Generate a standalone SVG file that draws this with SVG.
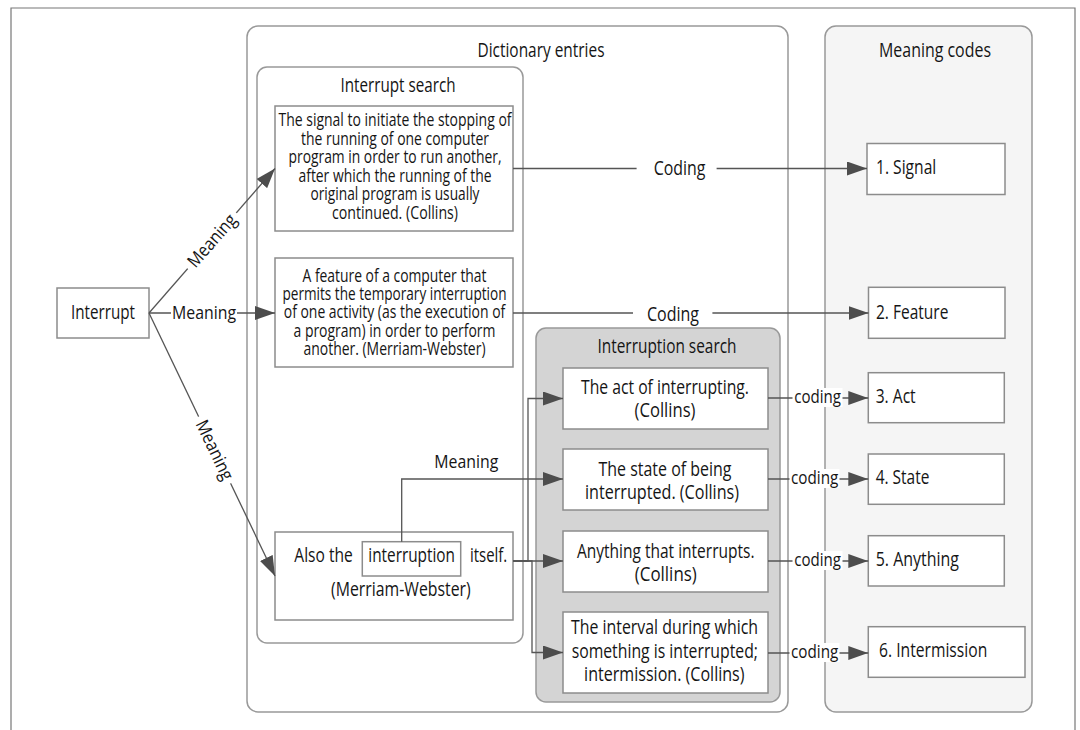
<svg xmlns="http://www.w3.org/2000/svg" width="1080" height="730" viewBox="0 0 1080 730">
<defs>
<style>
text{font-family:"Open Sans","Noto Sans","Liberation Sans",sans-serif;fill:#151515}
.t20{font-size:20px}
.t19{font-size:19px}
.t18{font-size:18px}
.t17{font-size:17.5px}
.c{text-anchor:middle}
.box{fill:#fff;stroke:#8c8c8c;stroke-width:1.5}
.cont{fill:#fff;stroke:#999;stroke-width:1.5}
.edge{fill:none;stroke:#555;stroke-width:1.3}
.bg{fill:#fff}
</style>
<marker id="arr" viewBox="0 0 20 14" refX="20" refY="7" markerWidth="20" markerHeight="14" markerUnits="userSpaceOnUse" orient="auto">
<path d="M0,0 L20,7 L0,14 Z" fill="#4d4d4d"/>
</marker>
</defs>
<rect width="1080" height="730" fill="#fff"/>
<path d="M11,730 V8 H1075 V730" fill="none" stroke="#777" stroke-width="1.2"/>

<g id="dictionary-entries">
<rect class="cont" x="247" y="26" width="541" height="686" rx="11"/>
<text class="t20 c" x="541" y="57" textLength="127" lengthAdjust="spacingAndGlyphs">Dictionary entries</text>
</g>
<g id="meaning-codes">
<rect class="cont" x="825" y="26" width="207" height="686" rx="11" style="fill:#f5f5f5"/>
<text class="t20 c" x="935" y="57" textLength="112" lengthAdjust="spacingAndGlyphs">Meaning codes</text>
</g>
<g id="interrupt-search">
<rect class="cont" x="257" y="67" width="266" height="576" rx="10"/>
<text class="t20 c" x="398" y="92" textLength="115" lengthAdjust="spacingAndGlyphs">Interrupt search</text>
</g>
<g id="interruption-search">
<rect class="cont" x="536" y="328" width="244" height="374" rx="10" style="fill:#d4d4d4"/>
<text class="t20 c" x="667" y="353" textLength="139" lengthAdjust="spacingAndGlyphs">Interruption search</text>
</g>

<g id="interrupt">
<rect class="box" x="57" y="288" width="92" height="50"/>
<text class="t20 c" x="103" y="318.5" textLength="64" lengthAdjust="spacingAndGlyphs">Interrupt</text>
</g>

<g id="def-signal">
<rect class="box" x="275" y="106" width="238" height="125"/>
<g class="t17 c">
<text x="395" y="126" textLength="233" lengthAdjust="spacingAndGlyphs">The signal to initiate the stopping of</text>
<text x="395" y="144.6" textLength="188" lengthAdjust="spacingAndGlyphs">the running of one computer</text>
<text x="395" y="163.2" textLength="213" lengthAdjust="spacingAndGlyphs">program in order to run another,</text>
<text x="395" y="181.8" textLength="193" lengthAdjust="spacingAndGlyphs">after which the running of the</text>
<text x="395" y="200.4" textLength="169" lengthAdjust="spacingAndGlyphs">original program is usually</text>
<text x="395" y="219" textLength="126" lengthAdjust="spacingAndGlyphs">continued. (Collins)</text>
</g>
</g>

<g id="def-feature">
<rect class="box" x="275" y="258" width="238" height="109"/>
<g class="t17 c">
<text x="394.5" y="281.5" textLength="184" lengthAdjust="spacingAndGlyphs">A feature of a computer that</text>
<text x="394.5" y="299.9" textLength="224" lengthAdjust="spacingAndGlyphs">permits the temporary interruption</text>
<text x="394.5" y="318.3" textLength="221.5" lengthAdjust="spacingAndGlyphs">of one activity (as the execution of</text>
<text x="394.5" y="336.7" textLength="202" lengthAdjust="spacingAndGlyphs">a program) in order to perform</text>
<text x="394.5" y="355.1" textLength="182" lengthAdjust="spacingAndGlyphs">another. (Merriam-Webster)</text>
</g>
</g>

<g id="def-also">
<rect class="box" x="275" y="532" width="238" height="88"/>
<g class="t20">
<text x="294.3" y="562.3" textLength="58.4" lengthAdjust="spacingAndGlyphs">Also the</text>
<text x="470" y="562.3" textLength="37.3" lengthAdjust="spacingAndGlyphs">itself.</text>
<text x="331" y="595.5" textLength="139.7" lengthAdjust="spacingAndGlyphs">(Merriam-Webster)</text>
</g>
</g>
<g id="interruption-word">
<rect class="box" x="362.3" y="541.7" width="98.4" height="34.3"/>
<text class="t20" x="368.3" y="562.3" textLength="86.7" lengthAdjust="spacingAndGlyphs">interruption</text>
</g>

<g id="def-act">
<rect class="box" x="563" y="368" width="205" height="61"/>
<g class="t20 c">
<text x="665" y="394" textLength="168" lengthAdjust="spacingAndGlyphs">The act of interrupting.</text>
<text x="665" y="417" textLength="61" lengthAdjust="spacingAndGlyphs">(Collins)</text>
</g>
</g>
<g id="def-state">
<rect class="box" x="563" y="449" width="205" height="61"/>
<g class="t20 c">
<text x="665" y="476" textLength="133" lengthAdjust="spacingAndGlyphs">The state of being</text>
<text x="662" y="499.3" textLength="154" lengthAdjust="spacingAndGlyphs">interrupted. (Collins)</text>
</g>
</g>
<g id="def-anything">
<rect class="box" x="563" y="531" width="205" height="61"/>
<g class="t20 c">
<text x="665.7" y="557.7" textLength="177.6" lengthAdjust="spacingAndGlyphs">Anything that interrupts.</text>
<text x="665.8" y="580.5" textLength="62" lengthAdjust="spacingAndGlyphs">(Collins)</text>
</g>
</g>
<g id="def-interval">
<rect class="box" x="563" y="612" width="205" height="81"/>
<g class="t20 c">
<text x="664.5" y="633.5" textLength="187" lengthAdjust="spacingAndGlyphs">The interval during which</text>
<text x="664.8" y="657.5" textLength="186.3" lengthAdjust="spacingAndGlyphs">something is interrupted;</text>
<text x="664.3" y="681" textLength="160.4" lengthAdjust="spacingAndGlyphs">intermission. (Collins)</text>
</g>
</g>

<g id="code-1">
<rect class="box" x="867" y="143.5" width="138" height="51"/>
<text class="t20" x="876" y="174" textLength="60.3" lengthAdjust="spacingAndGlyphs">1. Signal</text>
</g>
<g id="code-2">
<rect class="box" x="868.5" y="287.3" width="136.5" height="51"/>
<text class="t20" x="876" y="318.5" textLength="72.4" lengthAdjust="spacingAndGlyphs">2. Feature</text>
</g>
<g id="code-3">
<rect class="box" x="868.3" y="372.7" width="136" height="50"/>
<text class="t20" x="875.7" y="402.7" textLength="40" lengthAdjust="spacingAndGlyphs">3. Act</text>
</g>
<g id="code-4">
<rect class="box" x="868.3" y="454" width="136" height="50.3"/>
<text class="t20" x="875.7" y="484.3" textLength="53.7" lengthAdjust="spacingAndGlyphs">4. State</text>
</g>
<g id="code-5">
<rect class="box" x="868.3" y="535.7" width="136" height="50.3"/>
<text class="t20" x="875.7" y="566" textLength="83.3" lengthAdjust="spacingAndGlyphs">5. Anything</text>
</g>
<g id="code-6">
<rect class="box" x="868.3" y="626.7" width="156.7" height="50.6"/>
<text class="t20" x="879" y="657.3" textLength="108.3" lengthAdjust="spacingAndGlyphs">6. Intermission</text>
</g>

<g id="connectors">
<path class="edge" d="M149,313 L275,168.5" marker-end="url(#arr)"/>
<path class="edge" d="M149,313 H275" marker-end="url(#arr)"/>
<path class="edge" d="M149,313 L275,576" marker-end="url(#arr)"/>
<path class="edge" d="M513,168.5 H867" marker-end="url(#arr)"/>
<path class="edge" d="M513,313 H868.5" marker-end="url(#arr)"/>
<path class="edge" d="M401.7,541.7 V479 H563" marker-end="url(#arr)"/>
<path class="edge" d="M513,561 H528 V398.5 H563" marker-end="url(#arr)"/>
<path class="edge" d="M513,561 H563" marker-end="url(#arr)"/>
<path class="edge" d="M513,561 H532 V652.5 H563" marker-end="url(#arr)"/>
<path class="edge" d="M768,398 H868.3" marker-end="url(#arr)"/>
<path class="edge" d="M768,479 H868.3" marker-end="url(#arr)"/>
<path class="edge" d="M768,561 H868.3" marker-end="url(#arr)"/>
<path class="edge" d="M768,653 H868.3" marker-end="url(#arr)"/>

<g transform="translate(212,240.8) rotate(-48.9)">
<rect class="bg" x="-37" y="-9" width="74" height="18"/>
<text class="t18 c" x="0" y="6" textLength="64" lengthAdjust="spacingAndGlyphs">Meaning</text>
</g>
<rect class="bg" x="171" y="304" width="66" height="18"/>
<text class="t18 c" x="204" y="319.3" textLength="64" lengthAdjust="spacingAndGlyphs">Meaning</text>
<g transform="translate(214.6,450) rotate(64.4)">
<rect class="bg" x="-37" y="-9" width="74" height="18"/>
<text class="t18 c" x="0" y="6" textLength="64" lengthAdjust="spacingAndGlyphs">Meaning</text>
</g>
<text class="t18 c" x="466.3" y="468.3" textLength="64" lengthAdjust="spacingAndGlyphs">Meaning</text>

<rect class="bg" x="636.6" y="158" width="80" height="21"/>
<text class="t20 c" x="679.6" y="175" textLength="51.7" lengthAdjust="spacingAndGlyphs">Coding</text>
<rect class="bg" x="633" y="303" width="79.4" height="21"/>
<text class="t20 c" x="673" y="320.5" textLength="52" lengthAdjust="spacingAndGlyphs">Coding</text>

<rect class="bg" x="792.5" y="388" width="50" height="19"/>
<text class="t19" x="794.3" y="402.5" textLength="46.7" lengthAdjust="spacingAndGlyphs">coding</text>
<rect class="bg" x="789.5" y="469" width="50" height="19"/>
<text class="t19" x="791" y="484" textLength="47.3" lengthAdjust="spacingAndGlyphs">coding</text>
<rect class="bg" x="792.5" y="551" width="50" height="19"/>
<text class="t19" x="794.3" y="566" textLength="46.7" lengthAdjust="spacingAndGlyphs">coding</text>
<rect class="bg" x="789.5" y="643" width="50" height="19"/>
<text class="t19" x="791" y="658" textLength="47.3" lengthAdjust="spacingAndGlyphs">coding</text>
</g>
</svg>
